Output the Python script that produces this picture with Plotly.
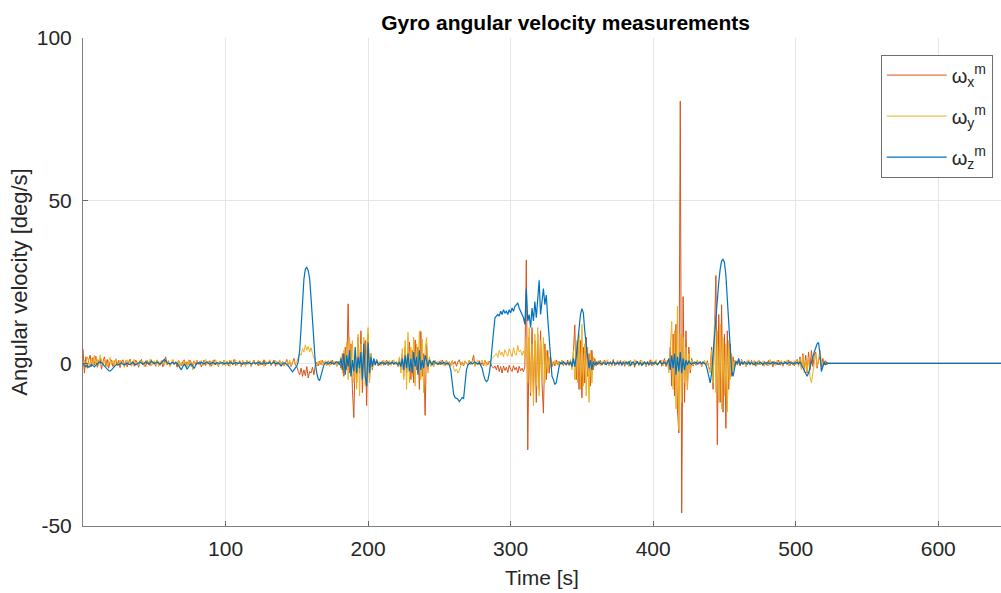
import numpy as np
import plotly.graph_objects as go

# Angular velocity samples, one per second from t=0 to t=523
wx = [
    4.5, -3.0, 2.0, -1.5, 1.0, 2.5, -1.0, 1.8, -0.5, 2.2,
    -1.2, 0.8, 1.5, -1.8, 0.5, 2.0, -0.8, 1.2, -1.5, 0.6,
    1.0, -1.0, 0.3, 1.4, -0.7, 0.9, -1.3, 0.5, 1.1, -0.4,
    0.8, -1.1, 0.4, 1.3, -0.6, 0.7, -0.9, 1.0, 0.2, -1.2,
    0.6, 1.2, -0.5, 0.3, -1.0, 0.9, 0.1, -0.7, 1.1, -0.3,
    0.5, -0.9, 1.0, 0.2, -0.6, 0.8, -1.1, 0.4, 2.0, -0.5,
    0.7, -0.8, 0.3, 1.0, -0.4, 0.6, -1.2, 0.9, 0.1, -0.7,
    0.4, 1.1, -0.9, 0.5, -0.3, 1.0, -1.0, 0.2, 0.8, -0.6,
    0.9, -0.4, 0.6, -1.1, 0.3, 1.0, -0.7, 0.5, -0.2, 0.8,
    -0.9, 0.4, 1.1, -0.5, 0.2, -1.0, 0.7, 0.3, -0.6, 1.0,
    -0.3, 0.6, -0.8, 0.9, 0.1, -0.5, 1.2, -0.7, 0.4, -0.2,
    0.8, -1.0, 0.5, 0.2, -0.6, 0.9, -0.3, 0.6, -0.9, 0.3,
    1.0, -0.4, 0.2, -0.8, 0.7, 0.1, -0.5, 1.1, -0.7, 0.4,
    -0.2, 0.9, -0.6, 0.3, 1.0, -0.9, 0.5, -0.3, 0.8, -0.4,
    0.6, -0.8, 0.4, 1.2, -0.5, 0.3, -1.0, 0.7, 1.5, -0.6,
    -1.0, -2.5, -3.5, -1.5, -4.0, -2.0, -3.8, -1.0, -4.5, -2.5,
    -3.0, -1.2, -3.5, -0.5, 0.3, -0.8, 0.6, -0.4, 0.9, -0.2,
    0.5, -0.7, 0.8, 0.1, -0.5, 1.0, -0.3, 0.4, -0.9, 0.6,
    0.5, -1.5, 3.0, -4.0, 5.0, -2.0, 18.3, -3.0, 6.0, -8.0,
    -16.7, 4.0, -6.0, 8.0, -3.0, 10.0, -9.0, 5.0, 7.0, -13.0,
    9.0, -5.0, 3.0, -2.0, 1.0, -0.5, 1.2, -0.8, 0.4, -0.3,
    0.8, -0.6, 0.3, 1.0, -0.7, 0.5, -0.2, 0.9, -0.5, 0.2,
    0.5, -1.0, 1.5, -2.0, 3.0, -4.0, 5.0, -3.0, 2.0, 6.5,
    -5.0, 4.0, -6.0, 7.2, -2.0, 5.0, -8.0, 9.8, -4.0, 3.0,
    -16.0, 6.0, -2.0, 1.5, -0.8, 0.5, -1.0, 0.7, 0.2, -0.4,
    0.6, -0.5, 1.0, 0.2, -0.7, 0.9, -0.3, 0.5, -0.6, 0.8,
    -0.2, 0.6, -0.9, 0.4, 1.1, -0.5, 0.3, -0.8, 0.7, 0.1,
    -0.5, 1.0, -0.3, 0.6, 2.5, -0.9, 0.4, -0.2, 0.8, -0.6,
    0.3, -0.8, 0.9, 0.0, -0.5, 0.7, -0.3, -1.0, -1.5, -0.8,
    -2.0, -0.5, -2.5, -1.0, -3.0, -0.8, -2.2, -1.2, -2.8, -0.6,
    -1.8, -2.5, -0.7, -2.0, -1.2, -3.0, -0.9, -2.3, -1.5, -2.6,
    -1.0, 31.8, -26.6, 8.0, -10.0, 11.0, -9.0, 7.0, -12.0, 9.0,
    -8.0, 10.0, -6.0, -15.3, 6.0, -5.0, 4.0, -3.0, 2.0, -1.0,
    0.5, -0.8, 1.0, -0.4, 0.6, -0.2, 0.9, -0.7, 0.3, -0.5,
    1.0, -0.6, 0.8, -1.2, 3.0, 11.8, -5.0, 6.0, -8.0, 7.0,
    -10.6, 5.0, -6.0, 8.0, -4.0, 3.0, -7.0, 4.0, -2.0, 1.5,
    -0.8, 0.5, -0.3, 0.9, -0.6, 0.4, 1.0, -0.5, 0.2, -0.7,
    0.6, -0.3, 1.2, -0.8, 0.4, 0.0, -0.6, 0.9, -0.4, 0.7,
    -0.9, 0.5, 0.2, -0.6, 1.0, -0.3, 0.5, -1.2, 0.8, 0.1,
    -0.5, 0.9, -0.7, 0.4, 0.2, -1.0, 0.6, -0.2, 1.1, -0.8,
    0.3, -0.4, 0.8, -0.6, 0.5, 1.0, -0.9, 0.2, 1.5, -1.0,
    1.0, -2.0, 5.0, -7.0, 9.0, -10.0, 12.0, -14.0, -21.4, 80.6,
    -46.0, 20.5, -12.0, 10.0, -8.0, 5.0, -3.0, 1.5, -0.8, 0.5,
    -0.6, 0.9, -0.3, 0.5, -1.0, 0.7, 0.2, -0.5, 0.8, -1.2,
    -2.0, 5.0, -8.0, 12.0, 27.0, -25.0, 15.0, -12.0, 18.0, -15.0,
    9.0, -20.0, 10.0, -8.0, 6.0, -4.0, 2.0, -1.0, 0.8, -0.5,
    0.6, -0.8, 1.2, -0.3, 0.5, -1.0, 0.8, 0.2, -0.6, 0.9,
    -0.4, 0.7, -0.9, 0.3, 1.0, -0.5, 0.4, -0.8, 0.6, 0.1,
    -0.7, 0.9, -0.2, 0.5, -1.1, 0.6, 0.2, -0.5, 1.0, -0.6,
    0.3, -0.9, 0.7, 0.0, -0.4, 1.0, -0.7, 0.5, 0.2, -0.8,
    0.6, 1.2, -0.5, 2.0, -1.5, 3.0, -2.0, 2.5, -3.0, 3.5,
    -2.0, 4.0, -1.0, 2.5, 3.5, -1.5, 1.0, 2.0, -1.0, 1.5,
    -0.5, 0.8, -0.3, 0.0,
]

wy = [
    -1.5, 1.0, -0.8, 2.0, 0.5, -1.2, 1.5, -0.5, 2.5, 0.0,
    1.2, -0.7, 2.6, 0.3, -0.9, 1.4, 0.2, -1.1, 0.8, 1.8,
    -0.5, 0.9, -1.0, 1.3, 0.4, -0.6, 1.0, -0.2, 0.7, -1.3,
    0.5, 1.1, -0.4, 0.8, -0.9, 0.6, 1.2, -0.3, 0.4, -0.7,
    1.0, -0.2, 0.6, -1.1, 0.9, 0.3, -0.5, 1.3, -0.8, 0.2,
    0.8, -0.4, 1.1, -0.9, 0.5, 0.0, 1.0, -0.6, 0.7, -0.3,
    0.9, -1.0, 0.4, 1.2, -0.5, 0.6, -0.2, 1.0, -0.9, 0.3,
    -0.6, 0.8, 0.2, -1.2, 1.1, -0.4, 0.5, -2.0, 0.7, 0.1,
    1.0, -0.5, 0.3, 0.9, -0.8, 0.4, 1.2, -0.3, 0.6, -1.0,
    0.5, 0.8, -0.6, 1.1, 0.0, -0.9, 0.7, 0.3, -0.4, 1.0,
    -0.8, 0.6, 0.2, -1.0, 0.9, -0.3, 0.5, 1.1, -0.7, 0.4,
    0.0, -0.6, 1.0, 0.3, -0.9, 0.7, -0.2, 0.8, -1.1, 0.5,
    0.9, -0.4, 0.3, 1.0, -0.7, 0.2, 0.6, -1.0, 0.8, -0.3,
    0.5, 1.1, -0.8, 0.4, -0.2, 0.9, -0.6, 0.3, 1.0, -0.5,
    0.6, -0.9, 0.2, 0.8, -0.4, 1.0, -0.7, 0.5, 0.9, -0.2,
    0.5, 1.5, 3.0, 2.5, 4.5, 3.5, 5.7, 4.0, 5.2, 3.5,
    4.8, 3.0, 2.0, 0.5, -0.8, 0.6, -0.4, 1.0, -0.6, 0.3,
    0.8, -0.5, 0.4, -0.9, 1.0, 0.2, -0.3, 0.7, -1.0, 0.5,
    -0.5, 2.0, -3.0, 4.0, -2.0, 6.5, -5.0, 8.0, -4.0, 7.0,
    -6.0, 3.0, -8.0, 9.0, -10.0, 6.0, -3.0, 8.0, -7.0, 5.0,
    11.0, -6.0, 3.0, -1.5, 1.0, -0.6, 0.8, -0.3, 0.5, -0.8,
    0.4, 1.0, -0.5, 0.7, -0.2, 0.9, -0.7, 0.3, 1.1, -0.4,
    0.6, -1.0, 2.0, -3.0, 4.5, -5.0, 7.0, -8.0, 9.5, -6.0,
    5.0, -4.0, 8.0, -7.0, 6.0, -3.0, 10.0, -5.0, 7.5, -9.0,
    4.0, 8.0, -3.0, 2.0, -1.0, 0.5, -0.8, 1.0, -0.3, 0.6,
    -0.5, 0.9, 0.2, -0.7, 0.4, 1.0, -0.6, 0.3, -0.9, 0.8,
    -1.5, -2.5, -1.8, -3.0, -2.2, -1.0, 0.5, -0.4, 0.8, 0.2,
    -0.6, 1.0, -0.3, 0.5, 1.2, -0.8, 0.3, 0.9, -0.5, 0.4,
    1.0, -0.4, 0.7, -0.9, 0.5, 0.2, 1.0, 1.5, 2.0, 2.5,
    3.0, 1.8, 4.0, 2.5, 3.5, 2.0, 4.2, 3.0, 2.2, 4.5,
    3.2, 2.0, 4.8, 3.0, 2.5, 5.5, 3.5, 4.0, 2.4, 3.8,
    2.0, 8.0, -6.0, 11.0, -9.0, 6.0, -13.0, 9.0, -7.0, 11.0,
    -10.0, 7.0, -5.0, 8.0, -6.0, 4.0, -3.0, 2.0, -1.0, 0.5,
    -0.5, 0.8, -0.3, 0.6, -0.9, 0.4, 1.0, -0.2, 0.5, -0.7,
    0.4, -0.8, 1.2, -2.0, 4.0, -5.0, 7.0, -6.0, 9.0, -8.0,
    12.0, -7.0, 6.0, -10.0, 5.0, -12.0, 4.0, -6.0, 2.0, -1.0,
    0.6, -0.4, 1.0, -0.7, 0.3, 0.8, -0.5, 0.2, 1.1, -0.6,
    0.4, -0.9, 0.7, 0.2, -0.5, 1.0, -0.3, 0.6, -0.8, 0.3,
    0.9, -0.4, 0.5, -1.0, 0.8, 0.1, -0.6, 1.2, -0.3, 0.5,
    -0.8, 0.6, 1.0, -0.5, 0.3, -0.9, 0.7, 0.2, -0.4, 0.9,
    -0.6, 0.4, 1.1, -0.7, 0.3, -0.2, 1.0, -0.8, 0.5, 0.0,
    1.0, -3.0, 6.0, 12.9, -8.0, 10.0, -14.0, 17.5, -20.5, 9.0,
    -12.0, 8.0, -6.0, 5.0, -8.0, 3.0, -2.0, 1.0, -0.5, 0.7,
    -0.4, 0.9, -0.2, 0.5, -0.8, 0.3, 1.0, -0.6, 0.4, -1.5,
    -3.0, 4.0, -6.0, 13.0, -9.0, 10.0, -12.0, 12.0, -14.0, 8.0,
    -10.0, 6.0, -15.0, 7.0, -5.0, 3.0, -2.0, 1.0, -0.6, 0.4,
    0.8, -0.5, 1.0, -0.3, 0.6, -0.9, 0.4, 1.1, -0.2, 0.5,
    -0.7, 0.9, 0.2, -0.6, 1.0, -0.4, 0.3, 0.8, -0.9, 0.5,
    0.1, -0.8, 1.2, -0.3, 0.6, 0.2, -0.7, 1.0, -0.5, 0.4,
    0.9, -0.6, 0.3, -0.2, 1.1, -0.8, 0.5, 0.0, -0.4, 0.8,
    -0.5, 1.0, -1.0, 1.5, -2.0, 2.5, -3.0, 1.0, -2.5, 2.0,
    -4.0, -6.0, -3.0, 1.0, 3.0, -1.0, 2.0, 4.0, 0.5, -1.0,
    0.8, -0.4, 0.3, 0.0,
]

wz = [
    -0.3, -0.8, -1.0, -0.6, -1.2, -0.9, -0.4, -0.7, -1.1, -0.5,
    -0.2, 0.3, 0.5, 0.2, -0.4, -0.8, -1.3, -1.8, -2.2, -2.4,
    -2.0, -1.4, -0.8, -0.5, -0.3, -0.4, -0.1, 0.2, -0.3, -0.5,
    -0.2, 0.1, -0.3, -0.4, 0.0, 0.3, -0.2, -0.5, -0.1, 0.2,
    0.4, 0.1, -0.3, 0.0, 0.5, 0.2, -0.2, 0.1, 0.6, 0.3,
    -0.1, 0.2, 0.4, 0.0, -0.3, 0.1, 0.5, 1.2, 0.8, 0.2,
    0.0, -0.2, 0.1, 0.3, -0.1, 0.2, 0.0, -0.6, -1.5, -2.0,
    -1.0, -0.3, -0.8, -1.8, -1.2, -0.4, -0.2, -1.0, -1.6, -0.6,
    0.0, 0.2, -0.1, 0.3, 0.1, -0.2, 0.2, 0.4, 0.0, -0.3,
    0.1, 0.3, 0.0, -0.2, 0.2, 0.1, -0.1, 0.3, 0.2, -0.2,
    0.0, 0.2, -0.1, 0.1, 0.3, -0.2, 0.0, 0.2, 0.1, -0.1,
    0.2, 0.0, -0.3, 0.1, 0.2, -0.1, 0.3, 0.0, -0.2, 0.1,
    0.2, -0.1, 0.0, 0.3, 0.1, -0.2, 0.0, 0.2, -0.1, 0.1,
    0.0, 0.3, -0.2, 0.1, 0.4, 0.0, -0.1, 0.2, -0.4, -0.8,
    -0.2, 0.1, 0.0, -0.3, -0.8, -1.4, -2.2, -2.6, -2.0, -1.2,
    -0.8, 0.5, 4.0, 11.0, 19.0, 26.0, 29.0, 29.5, 28.5, 26.0,
    20.0, 13.0, 5.0, 0.0, -3.0, -4.8, -5.3, -3.5, -1.5, -0.5,
    0.0, 0.3, -0.2, 0.1, 0.4, 0.0, -0.3, 0.2, 0.5, 0.1,
    -0.5, 1.5, -2.0, 3.0, -3.5, 2.5, -1.0, 4.0, -4.0, 1.0,
    -2.5, 5.0, -3.0, 2.0, -1.5, 3.5, -5.0, 6.0, -4.0, -7.0,
    6.5, -3.0, 2.0, -1.0, 1.5, -0.5, 0.8, 0.0, -0.4, 0.3,
    0.0, 0.2, -0.3, 0.1, 0.4, -0.2, 0.0, 0.3, -0.1, 0.2,
    0.0, -0.5, 0.4, -1.0, 1.5, -2.0, 2.5, -1.5, 3.0, -2.5,
    1.5, -3.0, 3.5, -1.0, 2.0, -3.5, 4.0, -2.0, 1.0, -1.5,
    2.5, 0.5, -1.0, 1.0, 0.3, -0.5, 0.8, 0.2, 0.0, -0.3,
    0.0, 0.2, -0.1, 0.3, 0.0, -0.2, 0.1, -0.5, -2.0, -5.0,
    -9.5, -10.5, -10.8, -11.0, -11.8, -11.2, -10.5, -10.8, -7.0, -2.0,
    -0.5, 0.0, 0.3, -0.2, 0.1, 0.4, 0.0, -0.3, 0.2, -0.5,
    -1.5, -3.5, -5.0, -5.6, -5.2, -3.0, 0.0, 5.0, 11.0, 14.0,
    14.5, 15.0, 14.5, 16.0, 15.0, 16.5, 15.5, 16.0, 15.0, 16.5,
    15.5, 17.0, 16.0, 17.5, 18.0, 18.6, 17.0, 16.0, 15.5, 14.0,
    12.0, 23.0, 13.0, 15.0, 11.0, 17.0, 13.0, 19.0, 14.0, 21.0,
    25.5, 15.0, 20.0, 23.0, 18.0, 21.0, 14.0, 8.0, 0.0, -4.0,
    -5.0, -6.5, -6.0, -3.0, -1.0, 0.3, -0.2, 0.5, 0.0, -0.4,
    0.2, -0.3, 0.5, -1.0, 1.5, -1.0, 2.0, 6.0, 12.0, 15.0,
    16.8, 15.5, 10.0, 5.0, 2.0, -1.5, 1.0, -2.0, 0.5, -0.5,
    0.3, -0.2, 0.4, 0.0, -0.3, 0.2, 0.1, -0.4, 0.3, 0.0,
    0.2, -0.3, 0.5, 0.0, -0.2, 0.3, -0.1, 0.4, -0.5, 0.1,
    0.0, 0.3, -0.2, 0.6, -0.8, 0.2, 0.4, -0.4, 0.1, 0.5,
    -0.3, 0.2, -0.6, 0.0, 0.4, -0.2, 0.3, -0.5, 0.1, 0.2,
    -0.1, 0.3, 0.0, -0.4, 0.2, 0.5, -0.2, 0.0, 0.3, -0.3,
    0.2, 1.5, -2.0, 2.5, -1.5, 3.0, -3.5, 2.0, -2.5, 3.5,
    -3.0, 1.5, -2.0, 1.0, -0.5, 0.8, 0.0, -0.3, 0.2, 0.0,
    0.3, -0.2, 0.1, 0.4, -0.1, 0.2, 0.0, -0.5, -2.0, -4.0,
    -6.0, -3.0, 3.0, 9.0, 15.0, 20.0, 25.0, 29.0, 31.5, 32.0,
    31.0, 27.0, 20.0, 10.0, 3.0, -2.0, -4.0, -1.0, 0.5, 0.0,
    1.5, -0.5, 0.3, -0.2, 0.5, 0.0, -0.3, 0.4, -0.1, 0.2,
    0.0, -0.4, 0.3, 0.1, -0.2, 0.4, 0.0, -0.3, 0.2, -0.1,
    0.3, 0.0, -0.2, 0.1, 0.4, -0.1, 0.2, 0.0, -0.3, 0.1,
    0.2, -0.2, 0.0, 0.3, -0.1, 0.1, 0.4, 0.0, -0.2, 0.1,
    0.0, 0.3, -0.2, 0.5, -0.5, -1.5, -2.5, -3.5, -4.0, -3.0,
    -1.0, 0.5, 2.0, 3.5, 5.0, 6.0, 6.4, 3.0, -2.5, -1.0,
    0.5, -0.5, 0.2, 0.0,
]

# After the recording stops the signal stays at zero until the end of the log
t_tail = [524, 645]
w_tail = [0.0, 0.0]

x_ticks = [100, 200, 300, 400, 500, 600]
y_ticks = [-50, 0, 50, 100]
y_tick_text = ["-50", "0", "50", "100"]

series = [
    ("ω<sub>x</sub><sup>m</sup>", wx, "#D95319", 1.0),
    ("ω<sub>y</sub><sup>m</sup>", wy, "#EDB120", 1.0),
    ("ω<sub>z</sub><sup>m</sup>", wz, "#0072BD", 1.2),
]

fig = go.Figure()
for i, (name, vals, color, lw) in enumerate(series):
    t = list(np.arange(len(vals), dtype=float)) + t_tail
    v = list(vals) + w_tail
    fig.add_trace(go.Scatter(x=t, y=v, mode="lines", name=name,
                             legendgroup=f"g{i}",
                             line=dict(color=color, width=lw)))

FONT = "Liberation Sans, Arial, Helvetica, sans-serif"
fig.update_layout(
    width=1001, height=593,
    margin=dict(l=83, r=0, t=38, b=67),
    paper_bgcolor="white", plot_bgcolor="white",
    font=dict(family=FONT, color="#262626", size=20),
    title=dict(text="<b>Gyro angular velocity measurements</b>",
               x=0.565, xref="container", xanchor="center",
               y=0.962, yref="container", yanchor="middle",
               font=dict(size=21, color="#000000")),
    showlegend=True,
    legend=dict(x=0.991, y=0.966, xanchor="right", yanchor="top",
                bgcolor="white", bordercolor="#6e6e6e", borderwidth=1,
                font=dict(size=20, color="#262626"),
                itemwidth=60, traceorder="grouped", tracegroupgap=12),
)
fig.update_xaxes(
    range=[0, 644], tickvals=x_ticks, ticks="inside", ticklen=5,
    tickcolor="#666666", showline=True, linecolor="#808080", linewidth=1,
    showgrid=True, gridcolor="#e5e5e5", gridwidth=1, zeroline=False,
    tickfont=dict(size=21, color="#262626"), ticklabelstandoff=4,
    title=dict(text="Time [s]", font=dict(size=21, color="#262626"), standoff=11),
    automargin=False,
)
fig.update_yaxes(
    range=[-50, 100], tickvals=y_ticks, ticktext=y_tick_text,
    ticks="inside", ticklen=5,
    tickcolor="#666666", showline=True, linecolor="#808080", linewidth=1,
    showgrid=True, gridcolor="#e5e5e5", gridwidth=1, zeroline=False,
    tickfont=dict(size=21, color="#262626"), ticklabelstandoff=6,
    title=dict(text="Angular velocity [deg/s]", font=dict(size=22, color="#262626"), standoff=3),
    automargin=False,
)

fig.write_html("out.html")
